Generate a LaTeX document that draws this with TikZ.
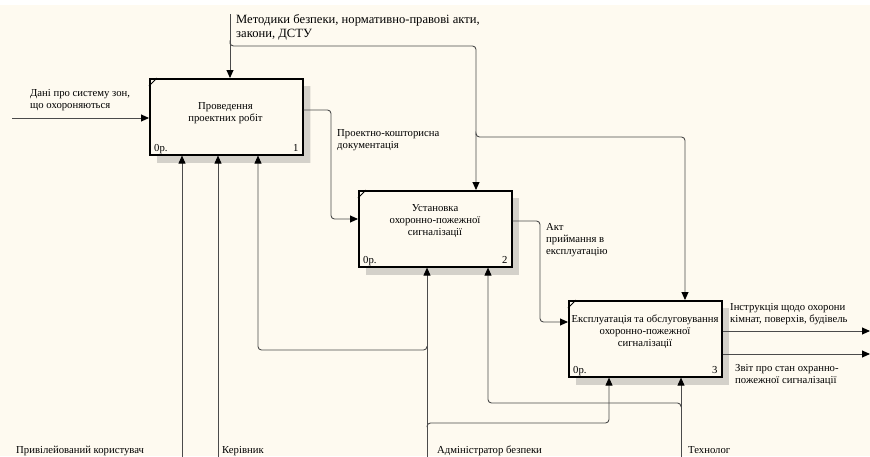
\documentclass[tikz,border=0pt]{standalone}
\usepackage{fontspec}
\setmainfont{Liberation Serif}
\usetikzlibrary{arrows.meta,patterns.meta}
\definecolor{paper}{RGB}{254,250,240}
\definecolor{wire}{RGB}{75,75,75}
\begin{document}
\begin{tikzpicture}[x=1pt,y=-1pt,
  font=\fontsize{10.7}{12}\selectfont,
  actbox/.style={draw=black, line width=1.6pt, fill=paper,
    minimum width=153pt, minimum height=76pt, inner sep=0pt, anchor=north west},
  boxtext/.style={align=center, inner sep=0pt},
  % multi-line labels: the base anchor sits on the last line
  lbl/.style={align=left, inner sep=0pt, anchor=base west},
  corner/.style={inner sep=0pt, font=\fontsize{10.7}{12}\selectfont},
  shade/.style={pattern={Dots[distance=2pt,radius=0.55pt]}, pattern color=black!70},
  notch/.style={draw=black, line width=0.9pt},
  flow/.style={draw=wire, line width=0.9pt, rounded corners=3.5pt,
    -{Triangle[length=8pt,width=7pt,fill=black,color=black]}}
]
\clip (0,0) rectangle (870,456);
\fill[paper] (0,0) rectangle (870,456);
\fill[white] (0,0) rectangle (870,5);

% activity box corners
\coordinate (p1) at (149,78);
\coordinate (p2) at (358,190);
\coordinate (p3) at (568,300);

% drop shadows
\fill[shade] ([shift={(8,8)}]p1) rectangle ++(153,76);
\fill[shade] ([shift={(8,8)}]p2) rectangle ++(153,76);
\fill[shade] ([shift={(8,8)}]p3) rectangle ++(153,76);

% activity boxes
\node[actbox] (b1) at (p1) {};
\node[actbox] (b2) at (p2) {};
\node[actbox] (b3) at (p3) {};
\foreach \b in {b1,b2,b3}
  \draw[notch] (\b.north west) ++(0,8) -- ++(8,-8);

\node[boxtext] (b1t) at (225.5,113) {Проведення\\проектних робіт};
\node[boxtext] (b2t) at (435,221) {Установка\\охоронно-пожежної\\сигналізації};
\node[boxtext] (b3t) at (645,332) {Експлуатація та обслуговування\\охоронно-пожежної\\сигналізації};

\node[corner, anchor=base west] (b1o) at ([shift={(5,-4)}]b1.south west) {0р.};
\node[corner, anchor=base east] (b1n) at ([shift={(-5,-4)}]b1.south east) {1};
\node[corner, anchor=base west] (b2o) at ([shift={(5,-4)}]b2.south west) {0р.};
\node[corner, anchor=base east] (b2n) at ([shift={(-5,-4)}]b2.south east) {2};
\node[corner, anchor=base west] (b3o) at ([shift={(5,-4)}]b3.south west) {0р.};
\node[corner, anchor=base east] (b3n) at ([shift={(-5,-4)}]b3.south east) {3};

% control: methods and regulations
\coordinate (ctl) at (230,14);
\coordinate (cj1) at (230,44);
\coordinate (cx2) at (476,46);
\coordinate (cj2) at (476,135);
\coordinate (cx3) at (685,137);
\draw[flow] (ctl) -- (ctl |- b1.north);
\draw[flow] (cj1) -- (230,46) -- (cx2) -- (cx2 |- b2.north);
\draw[flow] (cj2) -- (476,137) -- (cx3) -- (cx3 |- b3.north);
\node[lbl, font=\fontsize{12.6}{14}\selectfont] (lctl) at (236,37)
  {Методики безпеки, нормативно-правові акти,\\закони, ДСТУ};

% input
\coordinate (in1) at (12,118);
\draw[flow] (in1) -- (in1 -| b1.west);
\node[lbl] (lin1) at (30,108) {Дані про систему зон,\\що охороняються};

% box 1 -> box 2
\coordinate (r1) at (331,110);
\coordinate (r1b) at (331,219);
\draw[flow] (b1.east |- r1) -- (r1) -- (r1b) -- (b2.west |- r1b);
\node[lbl] (lr1) at (337,148) {Проектно-кошторисна\\документація};

% box 2 -> box 3
\coordinate (r2) at (540,221);
\coordinate (r2b) at (540,322);
\draw[flow] (b2.east |- r2) -- (r2) -- (r2b) -- (b3.west |- r2b);
\node[lbl] (lr2) at (546,254) {Акт\\приймання в\\експлуатацію};

% outputs
\coordinate (o1) at (870,331);
\coordinate (o2) at (870,354);
\draw[flow] (b3.east |- o1) -- (o1);
\draw[flow] (b3.east |- o2) -- (o2);
\node[lbl] (lo1) at (730,322) {Інструкція щодо охорони\\кімнат, поверхів, будівель};
\node[lbl] (lo2) at (735,383) {Звіт про стан охранно-\\пожежної сигналізації};

% mechanisms
\coordinate (m1) at (182,460);
\coordinate (m2) at (218,460);
\coordinate (m4) at (427,460);
\coordinate (m5) at (681,460);
\draw[flow] (m1) -- (m1 |- b1.south);
\draw[flow] (m2) -- (m2 |- b1.south);
\draw[flow] (m4) -- (m4 |- b2.south);
\draw[flow] (m5) -- (m5 |- b3.south);

\coordinate (j4a) at (427,346);
\coordinate (t1) at (258,350);
\draw[flow] (j4a) -- (427,350) -- (t1) -- (t1 |- b1.south);
\coordinate (j4b) at (427,427);
\coordinate (t3) at (609,423);
\draw[flow] (j4b) -- (427,423) -- (t3) -- (t3 |- b3.south);
\coordinate (j5) at (681,407);
\coordinate (t2) at (488,403);
\draw[flow] (j5) -- (681,403) -- (t2) -- (t2 |- b2.south);

\node[lbl] (lm1) at (16,453) {Привілейований користувач};
\node[lbl] (lm2) at (222,453) {Керівник};
\node[lbl] (lm4) at (437,453) {Адміністратор безпеки};
\node[lbl] (lm5) at (688,453) {Технолог};
\end{tikzpicture}
\end{document}
